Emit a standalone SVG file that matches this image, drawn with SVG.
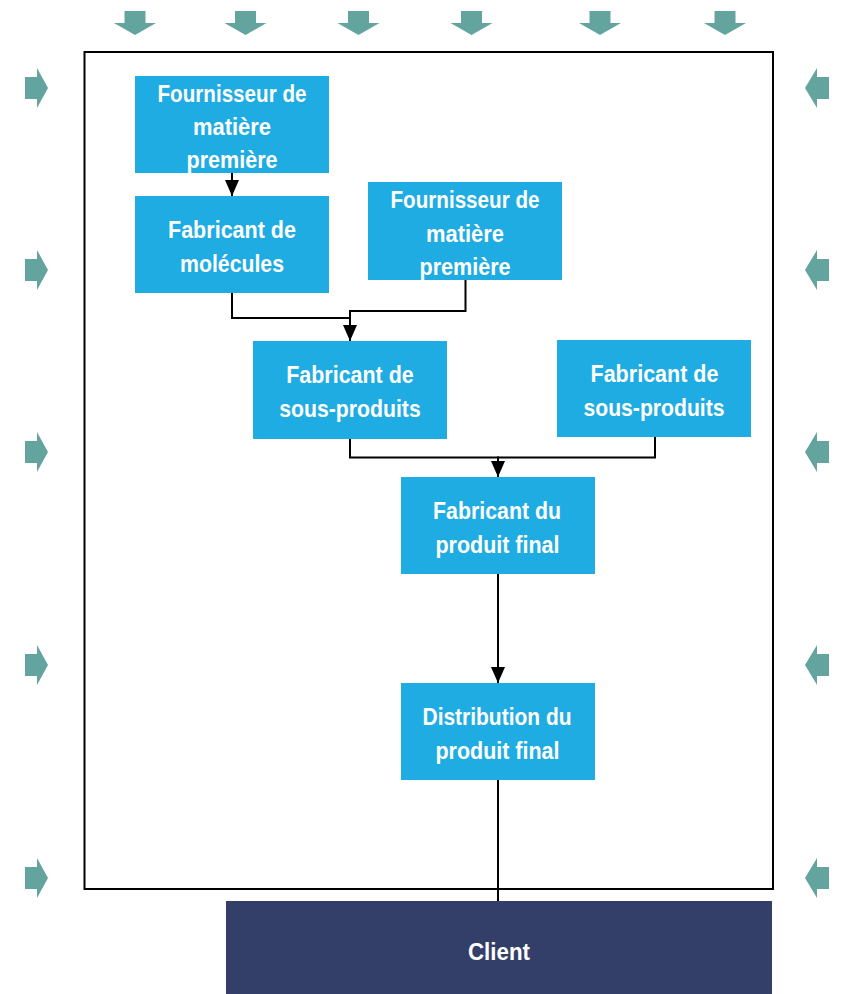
<svg xmlns="http://www.w3.org/2000/svg" xmlns:xlink="http://www.w3.org/1999/xlink" width="846" height="994" viewBox="0 0 846 994">
<style>
.node{fill:#1FACE3}
.client{fill:#343F69}
.lbl{font-family:"Liberation Sans",Arial,sans-serif;font-weight:bold;font-size:24px;fill:#FFFFFF;text-anchor:middle}
.conn{fill:none;stroke:#000000;stroke-width:2}
.frame{fill:none;stroke:#000000;stroke-width:2}
.ind{fill:#64A49F}
</style>
<defs>
<marker id="ah" viewBox="0 0 16 14" markerWidth="16" markerHeight="14" refX="16" refY="7" orient="auto" markerUnits="userSpaceOnUse">
<path d="M0,0 L16,7 L0,14 Z" fill="#000000"/>
</marker>
<polygon id="down" points="-10.5,11 10.5,11 10.5,23 21,23 0,35 -21,23 -10.5,23"/>
<polygon id="right" points="25,-11 37,-11 37,-20 48,0 37,20 37,11 25,11"/>
<polygon id="left" points="829,-11 817,-11 817,-20 805,0 817,20 817,11 829,11"/>
</defs>
<rect width="846" height="994" fill="#FFFFFF"/>
<g id="indicators" class="ind">
<use xlink:href="#down" x="135" y="0"/>
<use xlink:href="#down" x="245.5" y="0"/>
<use xlink:href="#down" x="358.5" y="0"/>
<use xlink:href="#down" x="471.5" y="0"/>
<use xlink:href="#down" x="600" y="0"/>
<use xlink:href="#down" x="725" y="0"/>
<use xlink:href="#right" x="0" y="88"/>
<use xlink:href="#right" x="0" y="270"/>
<use xlink:href="#right" x="0" y="452"/>
<use xlink:href="#right" x="0" y="665"/>
<use xlink:href="#right" x="0" y="878"/>
<use xlink:href="#left" x="0" y="88"/>
<use xlink:href="#left" x="0" y="270"/>
<use xlink:href="#left" x="0" y="452"/>
<use xlink:href="#left" x="0" y="665"/>
<use xlink:href="#left" x="0" y="878"/>
</g>
<rect id="boundary" class="frame" x="84.5" y="52" width="688.5" height="837"/>
<g id="connectors">
<path class="conn" d="M232,173 V196" marker-end="url(#ah)"/>
<path class="conn" d="M232,293 V318 H351"/>
<path class="conn" d="M465.5,280 V311 H350 V341" marker-end="url(#ah)"/>
<path class="conn" d="M350,439 V457.5 H499"/>
<path class="conn" d="M655,437 V457.5 H498 V477" marker-end="url(#ah)"/>
<path class="conn" d="M498,574 V683" marker-end="url(#ah)"/>
<path class="conn" d="M498,780 V901"/>
</g>
<g id="n1">
<rect class="node" x="135" y="76" width="194" height="97"/>
<text class="lbl" x="232" y="101.5" textLength="149" lengthAdjust="spacingAndGlyphs">Fournisseur de</text>
<text class="lbl" x="232" y="135" textLength="78" lengthAdjust="spacingAndGlyphs">matière</text>
<text class="lbl" x="232" y="168" textLength="91" lengthAdjust="spacingAndGlyphs">première</text>
</g>
<g id="n2">
<rect class="node" x="135" y="196" width="194" height="97"/>
<text class="lbl" x="232" y="238" textLength="128" lengthAdjust="spacingAndGlyphs">Fabricant de</text>
<text class="lbl" x="232" y="272" textLength="104" lengthAdjust="spacingAndGlyphs">molécules</text>
</g>
<g id="n3">
<rect class="node" x="368" y="182" width="194" height="98"/>
<text class="lbl" x="465" y="207.5" textLength="149" lengthAdjust="spacingAndGlyphs">Fournisseur de</text>
<text class="lbl" x="465" y="241.5" textLength="78" lengthAdjust="spacingAndGlyphs">matière</text>
<text class="lbl" x="465" y="274.5" textLength="91" lengthAdjust="spacingAndGlyphs">première</text>
</g>
<g id="n4">
<rect class="node" x="253" y="341" width="194" height="98"/>
<text class="lbl" x="350" y="382.5" textLength="127.5" lengthAdjust="spacingAndGlyphs">Fabricant de</text>
<text class="lbl" x="350" y="417" textLength="141.5" lengthAdjust="spacingAndGlyphs">sous-produits</text>
</g>
<g id="n5">
<rect class="node" x="557" y="340" width="194" height="97"/>
<text class="lbl" x="654.5" y="382" textLength="128" lengthAdjust="spacingAndGlyphs">Fabricant de</text>
<text class="lbl" x="654" y="415.5" textLength="141" lengthAdjust="spacingAndGlyphs">sous-produits</text>
</g>
<g id="n6">
<rect class="node" x="401" y="477" width="194" height="97"/>
<text class="lbl" x="497" y="518.5" textLength="128" lengthAdjust="spacingAndGlyphs">Fabricant du</text>
<text class="lbl" x="497.5" y="552.5" textLength="124" lengthAdjust="spacingAndGlyphs">produit final</text>
</g>
<g id="n7">
<rect class="node" x="401" y="683" width="194" height="97"/>
<text class="lbl" x="497" y="724.5" textLength="149" lengthAdjust="spacingAndGlyphs">Distribution du</text>
<text class="lbl" x="497.5" y="759" textLength="124" lengthAdjust="spacingAndGlyphs">produit final</text>
</g>
<g id="client">
<rect class="client" x="226" y="901" width="546" height="93"/>
<text class="lbl" x="499" y="960" font-size="25" textLength="62" lengthAdjust="spacingAndGlyphs">Client</text>
</g>
</svg>
